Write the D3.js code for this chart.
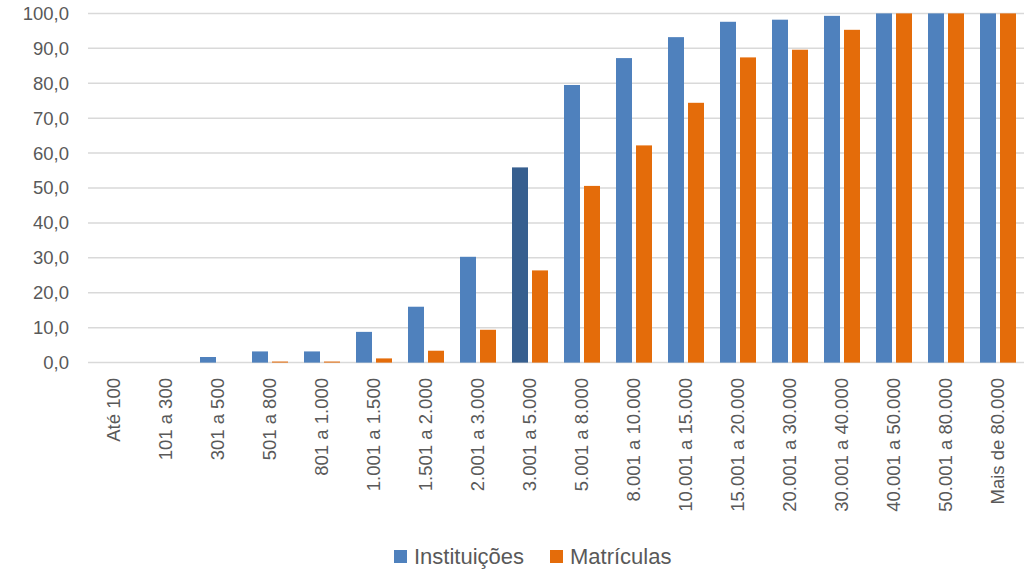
<!DOCTYPE html>
<html><head><meta charset="utf-8">
<script src="https://cdn.jsdelivr.net/npm/d3@7"></script>
<style>body{margin:0;background:#fff;} svg{display:block;}</style>
</head><body>
<svg id="chart" width="1031" height="572"></svg>
<script>
const categories = ["Até 100","101 a 300","301 a 500","501 a 800","801 a 1.000","1.001 a 1.500","1.501 a 2.000","2.001 a 3.000","3.001 a 5.000","5.001 a 8.000","8.001 a 10.000","10.001 a 15.000","15.001 a 20.000","20.001 a 30.000","30.001 a 40.000","40.001 a 50.000","50.001 a 80.000","Mais de 80.000"];
const instituicoes = [0,0,1.6,3.2,3.2,8.8,16.0,30.3,55.9,79.5,87.2,93.2,97.6,98.2,99.3,100,100,100];
const matriculas = [0,0,0,0.3,0.3,1.2,3.4,9.4,26.4,50.6,62.2,74.4,87.4,89.6,95.3,100,100,100];
const seriesNames = ["Instituições","Matrículas"];
const yTicks = [0,10,20,30,40,50,60,70,80,90,100];
const highlighted = "3.001 a 5.000";

const colors = {"Instituições":"#4F81BD","Matrículas":"#E46C0A"};
const highlightColor = "#375F8F";
const textColor = "#595959";
const font = "'Liberation Sans', Arial, sans-serif";

const svg = d3.select("#chart");
const mLeft = 88, mRight = 1024, mTop = 13.4, mBottom = 362.6;

const x0 = d3.scaleBand().domain(categories).range([mLeft, mRight]).paddingInner(0).paddingOuter(0);
const x1 = d3.scaleBand().domain(seriesNames).range([8, 44]).paddingInner(0.2).paddingOuter(0);
const y = d3.scaleLinear().domain([0,100]).range([mBottom, mTop]);

// gridlines
svg.append("g").selectAll("line").data(yTicks).join("line")
  .attr("x1", mLeft).attr("x2", mRight)
  .attr("y1", d => y(d)).attr("y2", d => y(d))
  .attr("stroke", "#D9D9D9").attr("stroke-width", 1.5);

// y labels
const fmt = d => d3.format(".1f")(d).replace(".", ",");
svg.append("g").selectAll("text").data(yTicks).join("text")
  .attr("x", 69).attr("y", d => y(d)).attr("dy", "0.35em")
  .attr("text-anchor", "end").attr("fill", textColor)
  .style("font-family", font).style("font-size", "18.5px")
  .text(fmt);

// bars
const data = categories.map((c, i) => ({cat: c, vals: [
  {s: "Instituições", v: instituicoes[i]},
  {s: "Matrículas", v: matriculas[i]}
]}));
const groups = svg.append("g").selectAll("g").data(data).join("g")
  .attr("transform", d => `translate(${x0(d.cat)},0)`);
groups.selectAll("rect").data(d => d.vals.map(o => ({...o, cat: d.cat}))).join("rect")
  .attr("x", d => x1(d.s)).attr("width", x1.bandwidth())
  .attr("y", d => y(d.v)).attr("height", d => mBottom - y(d.v))
  .attr("fill", d => (d.s === "Instituições" && d.cat === highlighted) ? highlightColor : colors[d.s]);

// x labels
svg.append("g").selectAll("text").data(categories).join("text")
  .attr("transform", d => `translate(${x0(d) + x0.bandwidth()/2},378) rotate(-90)`)
  .attr("dy", "0.35em")
  .attr("text-anchor", "end").attr("fill", textColor)
  .style("font-family", font).style("font-size", "18.5px")
  .text(d => d);

// legend
const legendPos = [{s: "Instituições", x: 394}, {s: "Matrículas", x: 550}];
const lg = svg.append("g").selectAll("g").data(legendPos).join("g")
  .attr("transform", d => `translate(${d.x},550)`);
lg.append("rect").attr("width", 13).attr("height", 13).attr("fill", d => colors[d.s]);
lg.append("text").attr("x", 20).attr("y", 6.5).attr("dy", "0.36em")
  .attr("fill", textColor).style("font-family", font).style("font-size", "22px")
  .text(d => d.s);
</script>
</body></html>
